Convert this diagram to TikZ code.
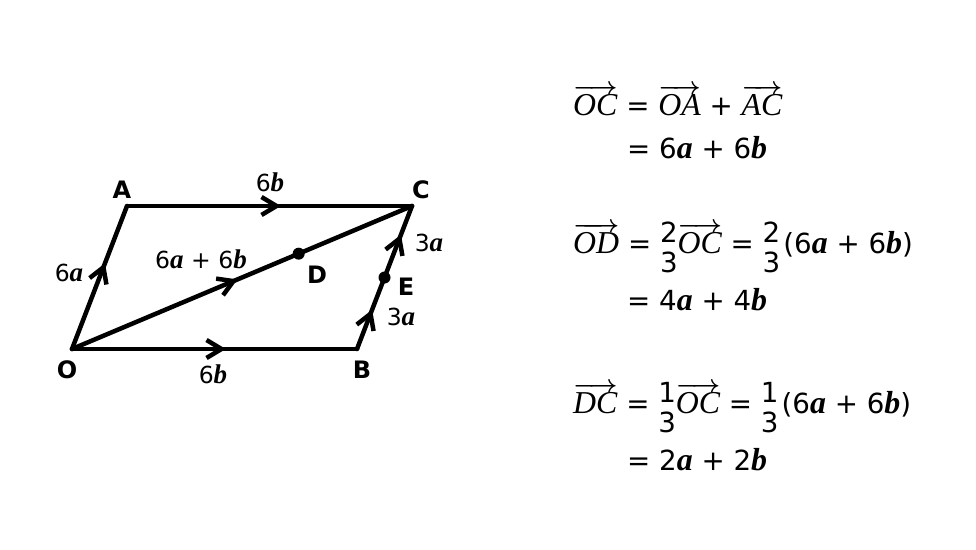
\documentclass[tikz,border=0pt]{standalone}
\usepackage{fontspec}
\setmainfont{DejaVu Sans}
\newfontfamily\srf[Scale=1.15]{Liberation Serif}
\usetikzlibrary{arrows.meta,decorations.markings,calc}

\newcommand\bv[1]{{\srf\bfseries\itshape #1}}
\newcommand\vecr[1]{\mbox{\boldmath$\overrightarrow{\hbox{\srf\itshape #1}}$}}
\newcommand\frc[2]{\raisebox{-5pt}{\begin{tabular}{@{}c@{}}#1\\#2\end{tabular}}}

\tikzset{
  edge/.style={line width=4.5pt, line cap=round},
  midarr/.style={postaction={decorate, decoration={markings,
      mark=at position #1 with {\arrow{Straight Barb[length=15pt,width=18pt]}}}}},
  pt/.style={anchor=base, inner sep=0pt, font=\fontsize{24}{29}\selectfont\bfseries},
  lbl/.style={anchor=base, inner sep=0pt, font=\fontsize{23.5}{28}\selectfont},
  eq/.style={anchor=base west, inner sep=0pt, font=\fontsize{27.7}{30}\selectfont}
}

\begin{document}
\begin{tikzpicture}[x=1pt, y=-1pt]
    \useasboundingbox (0,0) rectangle (976,549);

    % Punkte
    \coordinate (O) at (72,349);
    \coordinate (A) at (127,206);
    \coordinate (C) at (412,206);
    \coordinate (B) at (357,349);
    \coordinate (D) at ($(O)!0.6667!(C)$);
    \coordinate (E) at ($(B)!0.5!(C)$);

    % Kanten
    \draw[edge, midarr=0.6] (O) -- (A);
    \draw[edge, midarr=0.54] (A) -- (C);
    \draw[edge, midarr=0.54] (O) -- (B);
    \draw[edge, midarr=0.73] (O) -- (D);
    \draw[edge] (D) -- (C);
    \draw[edge, midarr=0.55] (B) -- (E);
    \draw[edge, midarr=0.6] (E) -- (C);
    \fill (D) circle (6);
    \fill (E) circle (6);

    % Beschriftung
    \node[pt] (lA) at (122,198) {A};
    \node[pt] (lC) at (421,198) {C};
    \node[pt] (lO) at (67,378) {O};
    \node[pt] (lB) at (362,378) {B};
    \node[pt] (lD) at (317,283) {D};
    \node[pt] (lE) at (406,295) {E};
    \node[lbl] (lAC) at (270,191) {6\bv{b}};
    \node[lbl] (lOB) at (213,383) {6\bv{b}};
    \node[lbl] (lOA) at (69,281) {6\bv{a}};
    \node[lbl] (lOC) at (201,268) {6\bv{a} + 6\bv{b}};
    \node[lbl] (lEC) at (429,251) {3\bv{a}};
    \node[lbl] (lBE) at (401,325) {3\bv{a}};

    % Rechnung
    \node[eq] (e1) at (573,115) {\vecr{OC} = \vecr{OA} + \vecr{AC}};
    \node[eq] (e2) at (627,158) {= 6\bv{a} + 6\bv{b}};
    \node[eq] (e3) at (573,253) {\vecr{OD} = \frc23\vecr{OC} = \frc23\hspace{3pt}(6\bv{a} + 6\bv{b})};
    \node[eq] (e4) at (627,310) {= 4\bv{a} + 4\bv{b}};
    \node[eq] (e5) at (573,413) {\vecr{DC} = \frc13\vecr{OC} = \frc13\hspace{3pt}(6\bv{a} + 6\bv{b})};
    \node[eq] (e6) at (627,470) {= 2\bv{a} + 2\bv{b}};
\end{tikzpicture}
\end{document}
